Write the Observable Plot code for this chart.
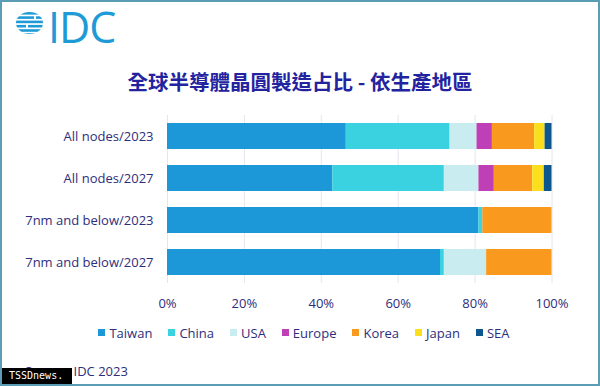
<!DOCTYPE html>
<html>
<head>
<meta charset="utf-8">
<script src="https://cdn.jsdelivr.net/npm/d3@7"></script>
<script src="https://cdn.jsdelivr.net/npm/@observablehq/plot@0.6"></script>
<style>
  html, body { margin: 0; padding: 0; background: #fff; }
  #wrap { position: relative; width: 600px; height: 386px; overflow: hidden; background: #fff; }
  #frame { position: absolute; left: 0; top: 0; width: 600px; height: 386px; box-sizing: border-box; border: 2px solid #5b9db4; pointer-events: none; }
  #logo { position: absolute; left: 0; top: 0; }
  #logoText { position: absolute; left: 48px; top: 2px; font-family: "Open Sans", sans-serif; font-size: 43px; line-height: 50px; color: #1e9bd7; letter-spacing: -1px; }
  #title { position: absolute; left: 0; width: 600px; top: 67px; text-align: center; font-family: "Noto Sans CJK TC", sans-serif; font-size: 20.5px; line-height: 28px; font-weight: 700; color: #2323a0; }
  #chart { position: absolute; left: 0; top: 105px; }
  #legend { position: absolute; left: 4px; width: 600px; top: 324px; height: 17px; display: flex; justify-content: center; align-items: center; }
  #legend .lg-swatches { margin: 0; min-height: 0; font-family: "Open Sans", sans-serif; font-size: 13px; color: #2e2e7c; display: flex; align-items: center; }
  #legend .lg-swatch { margin-right: 16px; display: inline-flex; align-items: center; }
  #legend .lg-swatch:last-child { margin-right: 0; }
  #legend .lg-swatch > svg { margin-right: 4px; }
  #source { position: absolute; left: 25px; top: 362px; font-family: "Open Sans", sans-serif; font-size: 13px; line-height: 18px; color: #2e2e7c; }
  #wm { position: absolute; left: 2px; top: 368px; width: 70px; height: 16px; background: #000; color: #fff; font-family: "DejaVu Sans Mono", monospace; font-size: 10px; line-height: 16px; padding-left: 7px; box-sizing: border-box; }
</style>
</head>
<body>
<div id="wrap">
  <svg id="logo" width="50" height="50">
    <defs><clipPath id="gc"><ellipse cx="29.5" cy="23" rx="13.5" ry="11"/></clipPath></defs>
    <g clip-path="url(#gc)" fill="#1e9bd7">
      <rect x="16" y="12" width="27" height="2.6"/>
      <rect x="16" y="16.3" width="18" height="2.6"/><rect x="36" y="16.3" width="8" height="2.6"/>
      <rect x="16" y="20.6" width="27" height="2.6"/>
      <rect x="16" y="24.9" width="10" height="2.6"/><rect x="28" y="24.9" width="16" height="2.6"/>
      <rect x="16" y="29.2" width="27" height="2.6"/>
      <rect x="16" y="33.2" width="27" height="2"/>
    </g>
  </svg>
  <div id="logoText">IDC</div>
  <div id="title">全球半導體晶圓製造占比 - 依生產地區</div>
  <div id="chart"></div>
  <div id="legend"></div>
  <div id="source">Source: IDC 2023</div>
  <div id="wm">TSSDnews.</div>
  <div id="frame"></div>
</div>
<script>
const categories = ["All nodes/2023", "All nodes/2027", "7nm and below/2023", "7nm and below/2027"];
const regions = ["Taiwan", "China", "USA", "Europe", "Korea", "Japan", "SEA"];
const colors = ["#1c98d8", "#3ad2e0", "#c8ecf0", "#bf40b6", "#f99a1e", "#fbdf1c", "#0e578e"];
const taiwan = [46.5, 43, 81, 71];
const china  = [27, 29, 1, 1];
const usa    = [7, 9, 0, 11];
const europe = [4, 4, 0, 0];
const korea  = [11, 10, 18, 17];
const japan  = [2.7, 3, 0, 0];
const sea    = [1.8, 2, 0, 0];
const xTicks = [0, 20, 40, 60, 80, 100];

const seriesValues = [taiwan, china, usa, europe, korea, japan, sea];
const table = categories.flatMap((c, i) =>
  regions.map((r, j) => ({category: c, region: r, value: seriesValues[j][i]}))
);

const chart = Plot.plot({
  width: 600,
  height: 218,
  marginTop: 10,
  marginBottom: 40,
  marginLeft: 167,
  marginRight: 48.5,
  style: {fontFamily: "Open Sans, sans-serif", fontSize: "13px", color: "#2e2e7c", background: "transparent"},
  x: {domain: [0, 100]},
  y: {domain: categories, paddingInner: 0.38, paddingOuter: 0.19, align: 0.5},
  color: {domain: regions, range: colors},
  marks: [
    Plot.gridX(xTicks, {stroke: "#e3e6ee", strokeOpacity: 1, strokeWidth: 1}),
    Plot.barX(table, {x: "value", y: "category", fill: "region", order: regions}),
    Plot.axisX({ticks: xTicks, tickFormat: d => d + "%", tickSize: 0, tickPadding: 15, label: null}),
    Plot.axisY({tickSize: 0, tickPadding: 14, label: null})
  ]
});
document.getElementById("chart").appendChild(chart);

const legend = Plot.legend({
  color: {domain: regions, range: colors},
  legend: "swatches",
  swatchSize: 7,
  className: "lg"
});
document.getElementById("legend").appendChild(legend);
</script>
</body>
</html>
